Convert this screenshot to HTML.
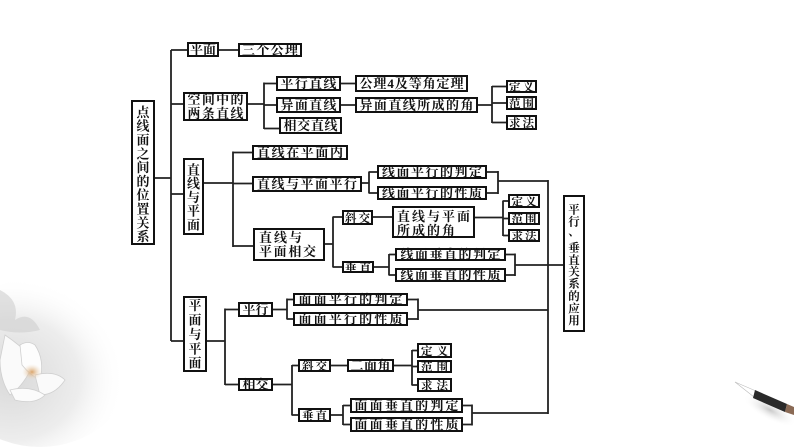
<!DOCTYPE html>
<html><head><meta charset="utf-8"><style>
html,body{margin:0;padding:0;background:#fff;width:794px;height:447px;overflow:hidden;}
svg{display:block;}
text{font-family:"Liberation Serif","Noto Serif CJK SC",serif;font-size:13px;font-weight:bold;fill:#111;text-anchor:middle;}
.s{font-size:11.5px;}
.l{text-anchor:start;}
.b{fill:#fff;stroke:#111;stroke-width:2;}
.ln{fill:none;stroke:#222;stroke-width:1.8;}
</style></head><body>
<svg width="794" height="447" viewBox="0 0 794 447" xmlns="http://www.w3.org/2000/svg">
<defs>
<radialGradient id="g1" cx="0.35" cy="0.6" r="0.6">
<stop offset="0" stop-color="#d9d9d9"/><stop offset="0.6" stop-color="#ededed"/><stop offset="1" stop-color="#fff" stop-opacity="0"/>
</radialGradient>
<radialGradient id="g2" cx="0.5" cy="0.5" r="0.5">
<stop offset="0" stop-color="#c9c9c9"/><stop offset="1" stop-color="#fff" stop-opacity="0"/>
</radialGradient>
<radialGradient id="g3" cx="0.5" cy="0.5" r="0.5">
<stop offset="0" stop-color="#d9a46a"/><stop offset="1" stop-color="#efe0cc" stop-opacity="0"/>
</radialGradient>
</defs>
<!-- lotus decoration -->
<ellipse cx="40" cy="362" rx="95" ry="85" fill="url(#g1)"/>
<path d="M0 290 Q20 300 15 320 Q30 310 40 330 Q20 335 0 330 Z" fill="#cfcfcf" opacity="0.6"/>
<path d="M5 335 Q20 345 35 360 Q25 385 10 395 Q0 380 0 360 Z" fill="#fafafa" stroke="#d0d0d0" stroke-width="0.8"/>
<path d="M20 345 Q28 340 35 345 Q45 360 40 380 Q30 375 22 365 Z" fill="#fdfdfd" stroke="#cfcfcf" stroke-width="0.8"/>
<path d="M35 375 Q55 370 65 380 Q55 395 40 395 Z" fill="#fafafa" stroke="#d0d0d0" stroke-width="0.8"/>
<path d="M10 390 Q30 385 45 395 Q35 405 15 400 Z" fill="#fbfbfb" stroke="#d0d0d0" stroke-width="0.8"/>
<ellipse cx="32" cy="372" rx="10" ry="8" fill="url(#g3)"/>
<!-- brush -->
<ellipse cx="770" cy="410" rx="30" ry="10" fill="url(#g2)" transform="rotate(28 770 410)"/>
<path d="M735 382 L756 391 L754 397 Z" fill="#fff" stroke="#bbb" stroke-width="0.6"/>
<path d="M755 390 L787 404 L785 412 L753 398 Z" fill="#2a2a2a"/>
<path d="M787 404 L794 407 L794 415 L785 412 Z" fill="#8a6a55"/>

<!-- connector lines -->
<path class="ln" d="M171 50V341 M155 178H171 M171 50H188 M219 50H239 M171 104H184
M248 104H264 M264 82.5V129 M264 83.5H277 M264 105H277 M264 128.5H280
M341 83.5H356 M341 105H356
M478 105H492 M492 86V123 M492 86.5H507 M492 103H507 M492 122.5H507
M171 194H184 M204 183H233 M233 151.5V247 M233 152.5H253 M233 183.5H253 M233 246H254
M362 183H369 M369 171.5V193.5 M369 172H378 M369 193H378
M487 172H498 M498 171V194 M487 193H498 M498 181H548 M548 180V414
M325 244H333 M333 216.5V267.5 M333 217H343 M333 267H343
M373 217H393
M475 217.5H503 M503 200.5V236 M503 201H509 M503 218.5H509 M503 235.5H509
M374 267H389 M389 254V275.5 M389 254.5H396 M389 275H396
M506 254.5H515 M515 253.5V276 M506 275H515 M515 265H564
M171 341H184 M207 341H225 M225 308.5V385 M225 309.5H239 M225 384.5H239
M273 309.5H287 M287 298.5V319.5 M287 299.5H294 M287 319H294
M408 299.5H418 M418 298.5V320 M408 319H418 M418 310H548
M273 384.5H292 M292 365V415.5 M292 365.5H299 M292 415H299
M331 365.5H348 M394 365.5H412 M412 350V385.5 M412 350.5H418 M412 366.5H418 M412 385H418
M331 415H343 M343 405V425 M343 405.5H351 M343 424.5H351
M463 405.5H472 M472 404.5V425.5 M463 424.5H472 M472 413H548"/>

<!-- boxes -->
<rect class="b" x="132" y="101" width="22" height="143"/>
<rect class="b" x="188" y="43" width="30" height="13"/>
<rect class="b" x="239" y="44" width="62" height="12"/>
<rect class="b" x="184" y="93" width="63" height="27"/>
<rect class="b" x="277" y="77" width="63" height="13"/>
<rect class="b" x="277" y="98" width="63" height="14"/>
<rect class="b" x="280" y="118" width="61" height="15"/>
<rect class="b" x="356" y="76" width="111" height="15"/>
<rect class="b" x="356" y="98" width="121" height="14"/>
<rect class="b" x="507" y="81" width="29" height="11"/>
<rect class="b" x="507" y="97" width="29" height="12"/>
<rect class="b" x="507" y="116" width="29" height="13"/>
<rect class="b" x="184" y="159" width="19" height="75"/>
<rect class="b" x="253" y="146" width="94" height="13"/>
<rect class="b" x="253" y="177" width="108" height="14"/>
<rect class="b" x="254" y="229" width="70" height="31"/>
<rect class="b" x="378" y="166" width="108" height="12"/>
<rect class="b" x="378" y="187" width="108" height="12"/>
<rect class="b" x="343" y="211" width="29" height="13"/>
<rect class="b" x="343" y="262" width="30" height="10"/>
<rect class="b" x="393" y="207" width="81" height="30"/>
<rect class="b" x="509" y="195" width="30" height="12"/>
<rect class="b" x="509" y="213" width="30" height="11"/>
<rect class="b" x="509" y="230" width="30" height="11"/>
<rect class="b" x="396" y="249" width="109" height="11"/>
<rect class="b" x="396" y="269" width="109" height="12"/>
<rect class="b" x="564" y="196" width="20" height="135"/>
<rect class="b" x="184" y="297" width="22" height="74"/>
<rect class="b" x="239" y="303" width="33" height="13"/>
<rect class="b" x="239" y="379" width="33" height="11"/>
<rect class="b" x="294" y="294" width="113" height="11"/>
<rect class="b" x="294" y="313" width="113" height="12"/>
<rect class="b" x="299" y="360" width="31" height="11"/>
<rect class="b" x="348" y="360" width="45" height="11"/>
<rect class="b" x="418" y="344" width="33" height="13"/>
<rect class="b" x="418" y="361" width="33" height="11"/>
<rect class="b" x="418" y="379" width="33" height="12"/>
<rect class="b" x="299" y="409" width="31" height="12"/>
<rect class="b" x="351" y="399" width="111" height="13"/>
<rect class="b" x="351" y="418" width="111" height="13"/>

<g transform="translate(0,4.4)">
<text x="143" y="112.5">点</text><text x="143" y="126.3">线</text><text x="143" y="140.1">面</text><text x="143" y="153.9">之</text><text x="143" y="167.7">间</text><text x="143" y="181.5">的</text><text x="143" y="195.3">位</text><text x="143" y="209.1">置</text><text x="143" y="222.9">关</text><text x="143" y="236.7">系</text>

<text x="203" y="49.5" textLength="26">平面</text>
<text x="270" y="50" textLength="56">三个公理</text>
<text x="215.5" y="99.5" textLength="56">空间中的</text><text x="215.5" y="113.5" textLength="56">两条直线</text>
<text x="308.5" y="83.5" textLength="56">平行直线</text>
<text x="308.5" y="105" textLength="56">异面直线</text>
<text x="310.5" y="125.5" textLength="54">相交直线</text>
<text x="411.5" y="83.5" textLength="104">公理4及等角定理</text>
<text x="416.5" y="105" textLength="114">异面直线所成的角</text>
<text class="s" x="521.5" y="86.5" textLength="25">定义</text>
<text class="s" x="521.5" y="103" textLength="25">范围</text>
<text class="s" x="521.5" y="122.5" textLength="25">求法</text>

<text x="193.5" y="170">直</text><text x="193.5" y="183.8">线</text><text x="193.5" y="197.5">与</text><text x="193.5" y="211.3">平</text><text x="193.5" y="225">面</text>

<text x="300" y="152.5" textLength="86">直线在平面内</text>
<text x="307" y="184" textLength="100">直线与平面平行</text>
<text class="l" x="259" y="237.5" textLength="43">直线与</text><text class="l" x="259" y="251.5" textLength="57">平面相交</text>
<text x="432" y="172" textLength="100">线面平行的判定</text>
<text x="432" y="193" textLength="100">线面平行的性质</text>
<text class="s" x="357.5" y="217.5" textLength="25">斜交</text>
<text class="s" x="358" y="267" textLength="26">垂直</text>
<text class="l" x="397" y="216.5" textLength="73">直线与平面</text><text class="l" x="397" y="230.5" textLength="58">所成的角</text>
<text class="s" x="524" y="201" textLength="25">定义</text>
<text class="s" x="524" y="218.5" textLength="25">范围</text>
<text class="s" x="524" y="235.5" textLength="25">求法</text>
<text x="450.5" y="254.5" textLength="100">线面垂直的判定</text>
<text x="450.5" y="275" textLength="100">线面垂直的性质</text>

<text class="s" x="574" y="209">平</text><text class="s" x="574" y="221">行</text><text class="s" x="574" y="231">、</text><text class="s" x="574" y="247">垂</text><text class="s" x="574" y="259.5">直</text><text class="s" x="574" y="271">关</text><text class="s" x="574" y="283">系</text><text class="s" x="574" y="295.5">的</text><text class="s" x="574" y="308">应</text><text class="s" x="574" y="320">用</text>

<text x="195" y="305.7">平</text><text x="195" y="320.1">面</text><text x="195" y="334.5">与</text><text x="195" y="348.9">平</text><text x="195" y="363.3">面</text>

<text x="255.5" y="309.5" textLength="26">平行</text>
<text x="255.5" y="384.5" textLength="26">相交</text>
<text x="350.5" y="299.5" textLength="104">面面平行的判定</text>
<text x="350.5" y="319" textLength="104">面面平行的性质</text>
<text class="s" x="314.5" y="365.5" textLength="25">斜交</text>
<text x="370.5" y="365.5" textLength="40">二面角</text>
<text class="s" x="434.5" y="350.5" textLength="27">定义</text>
<text class="s" x="434.5" y="366.5" textLength="27">范围</text>
<text class="s" x="434.5" y="385" textLength="27">求法</text>
<text class="s" x="314.5" y="415" textLength="25">垂直</text>
<text x="406.5" y="405.5" textLength="104">面面垂直的判定</text>
<text x="406.5" y="424.5" textLength="104">面面垂直的性质</text>
</g>
</svg>
</body></html>
